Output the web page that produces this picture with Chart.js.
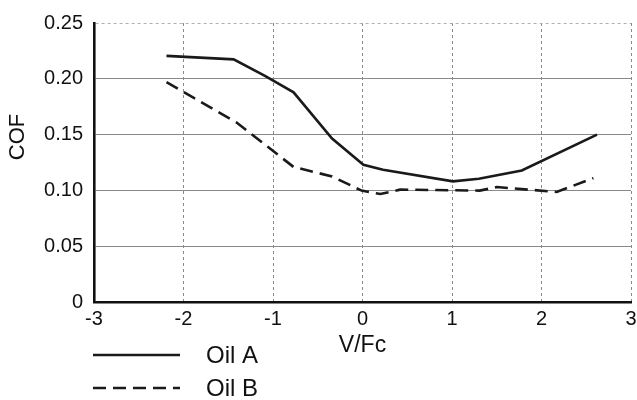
<!DOCTYPE html>
<html>
<head>
<meta charset="utf-8">
<script src="https://cdn.jsdelivr.net/npm/chart.js@4/dist/chart.umd.min.js"></script>
<style>
  html, body { margin: 0; padding: 0; background: #fff; }
  #wrap { width: 637px; height: 400px; position: relative; }
</style>
</head>
<body>
<div id="wrap"><canvas id="chart"></canvas></div>
<script>
// DATA
const seriesNames = ["Oil A", "Oil B"];
const oilA_x = [-2.19, -1.44, -1.09, -0.77, -0.34, 0.01, 0.23, 1.01, 1.30, 1.78, 2.62];
const oilA_y = [0.2205, 0.2174, 0.2026, 0.1879, 0.1465, 0.1229, 0.1185, 0.1081, 0.1105, 0.1178, 0.1500];
const oilB_x = [-2.19, -1.41, -0.77, -0.34, -0.01, 0.20, 0.42, 1.31, 1.50, 2.17, 2.58];
const oilB_y = [0.197, 0.161, 0.121, 0.1125, 0.0998, 0.0968, 0.1007, 0.0998, 0.103, 0.0986, 0.111];
const xTicks = [-3, -2, -1, 0, 1, 2, 3];
const yTicks = [0, 0.05, 0.10, 0.15, 0.20, 0.25];
const xTitle = "V/Fc";
const yTitle = "COF";

const FONT = "'Liberation Sans', Arial, sans-serif";
const LINE = "#1a1a1a";

const toPoints = (xs, ys) => xs.map((x, i) => ({ x: x, y: ys[i] }));

// legend + rotated y title drawn by hand
const extras = {
  id: "extras",
  afterDraw(chart) {
    const ctx = chart.ctx;
    ctx.save();
    // y title
    ctx.translate(18, 137);
    ctx.rotate(-Math.PI / 2);
    ctx.font = "22px " + FONT;
    ctx.fillStyle = "#111";
    ctx.textAlign = "center";
    ctx.textBaseline = "middle";
    ctx.fillText(yTitle, 0, 0);
    ctx.restore();

    // legend
    const rows = [355, 388];
    chart.data.datasets.forEach((ds, i) => {
      const y = rows[i];
      ctx.save();
      ctx.strokeStyle = ds.borderColor;
      ctx.lineWidth = ds.borderWidth;
      ctx.setLineDash(ds.borderDash || []);
      ctx.beginPath();
      ctx.moveTo(93, y);
      ctx.lineTo(180, y);
      ctx.stroke();
      ctx.setLineDash([]);
      ctx.font = "24px " + FONT;
      ctx.fillStyle = "#111";
      ctx.textBaseline = "middle";
      ctx.fillText(ds.label, 206, y + 1);
      ctx.restore();
    });
  }
};

new Chart(document.getElementById("chart"), {
  type: "line",
  data: {
    datasets: [
      {
        label: seriesNames[0],
        data: toPoints(oilA_x, oilA_y),
        borderColor: LINE,
        borderWidth: 2.6,
        pointRadius: 0,
        tension: 0,
        fill: false
      },
      {
        label: seriesNames[1],
        data: toPoints(oilB_x, oilB_y),
        borderColor: LINE,
        borderWidth: 2.6,
        borderDash: [13, 7],
        pointRadius: 0,
        tension: 0,
        fill: false
      }
    ]
  },
  options: {
    responsive: true,
    maintainAspectRatio: false,
    animation: false,
    layout: { padding: { top: 20, right: 6, left: 0, bottom: 0 } },
    plugins: {
      legend: { display: false },
      tooltip: { enabled: false }
    },
    scales: {
      x: {
        type: "linear",
        min: xTicks[0],
        max: xTicks[xTicks.length - 1],
        afterBuildTicks: (s) => { s.ticks = xTicks.map(v => ({ value: v })); },
        afterFit: (s) => { s.height = 98; s.paddingRight = 0; s.paddingLeft = 0; },
        ticks: {
          color: "#111",
          font: { family: FONT, size: 20 },
          padding: 5,
          maxRotation: 0,
          callback: (v) => String(v)
        },
        grid: { color: "#8a8a8a", lineWidth: 1, drawTicks: false },
        border: { display: true, color: "#111", width: 2.6, dash: [3, 3] },
        title: {
          display: true,
          text: xTitle,
          color: "#111",
          font: { family: FONT, size: 23 },
          padding: { top: 0, bottom: 41 }
        }
      },
      y: {
        min: yTicks[0],
        max: yTicks[yTicks.length - 1],
        afterBuildTicks: (s) => { s.ticks = yTicks.map(v => ({ value: v })); },
        afterFit: (s) => { s.width = 94; },
        ticks: {
          color: "#111",
          font: { family: FONT, size: 20 },
          padding: 11,
          callback: (v) => v === 0 ? "0" : v.toFixed(2)
        },
        grid: {
          color: (c) => c.tick && c.tick.value === 0.25 ? "#b0b0b0" : "#8a8a8a",
          lineWidth: 1,
          drawTicks: false
        },
        border: {
          display: true,
          color: "#111",
          width: 2.6,
          dash: (c) => c.tick && c.tick.value === 0.25 ? [3, 3] : []
        }
      }
    }
  },
  plugins: [extras]
});
</script>
</body>
</html>
